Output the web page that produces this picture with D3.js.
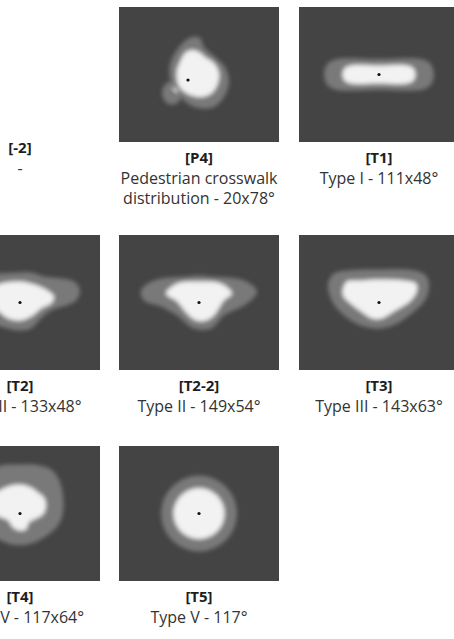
<!DOCTYPE html>
<html>
<head>
<meta charset="utf-8">
<script src="https://cdn.jsdelivr.net/npm/d3@7/dist/d3.min.js"></script>
<style>
  body { margin: 0; background: #fff; }
  svg { display: block; }
</style>
</head>
<body>
<div id="chart"></div>
<script>
// --- Data ---
const labels = ["[-2]", "[P4]", "[T1]", "[T2]", "[T2-2]", "[T3]", "[T4]", "[T5]"];
const captions = [
    ["-"],
    ["Pedestrian crosswalk", "distribution - 20x78°"],
    ["Type I - 111x48°"],
    ["Type II - 133x48°"],
    ["Type II - 149x54°"],
    ["Type III - 143x63°"],
    ["Type IV - 117x64°"],
    ["Type V - 117°"]
];

// luminaire mark, offset from picture centre (null = no picture)
const luminaire = [null, [-11, 5.5], [0, 0], [0, 0], [0, 0], [0, 0], [0, 0], [0, 0]];

// outlines, relative to the luminaire mark
const p4Halo = [[4,-43],[-4,-38],[-13,-27],[-18,-15],[-18,-2],[-11,12],[-1,23],[11,28],[26,27],[36,17],[41,2],[37,-13],[27,-23],[16,-33],[12,-42]];
const p4Core = [[4,-30],[-3,-27],[-8,-18],[-11,-10],[-11,0],[-8,8],[2,15],[14,17],[24,13],[30,3],[31,-7],[26,-17],[17,-23],[11,-28]];
const p4Lobe = [-16, 13, 10, 11.5];   // cx, cy, rx, ry
const p4Spot = [-12.7, 10, 3.5, 2];

const t1Halo = [[-55,0],[-52,-10],[-44,-15],[0,-15.5],[44,-15],[52,-10],[55,0],[52,10],[44,15],[0,15.5],[-44,15],[-52,10]];
const t1Core = [[-36.5,0],[-34,-6.5],[-28,-9],[0,-9],[28,-9],[34,-6.5],[36.5,0],[34,6.5],[28,9],[0,9],[-28,9],[-34,6.5]];

const t2Halo = [[-35,-29],[-19,-29],[0,-30],[11,-30],[24,-26],[41,-24],[54,-21],[60,-12],[56,-2],[46,3],[31,8],[21,16],[11,26],[-2,28],[-19,24],[-40,18],[-55,5],[-60,-12],[-50,-24]];
const t2Core = [[0,-21],[11,-19],[24,-14],[34,-6],[31,1],[21,6],[13,13],[1,18],[-12,16],[-19,11],[-30,0],[-33,-9],[-22,-18]];

const t22Halo = [[-58,-12],[-45,-22],[-12,-26],[0,-27],[12,-26],[45,-22],[58,-11],[48,1],[25,13],[12,26],[-5,26],[-22,13],[-38,4],[-55,-2]];
const t22Core = [[0,-21],[-22,-19],[-33,-9],[-22,-1],[-12,11],[-3,18],[7,18],[15,13],[25,-2],[33,-9],[22,-19]];

const t3Halo = [[-51,-19],[-45,-29],[-32,-32],[2,-33],[35,-32],[47,-27],[50,-17],[47,-4],[35,9],[18,21],[2,26],[-15,24],[-28,18],[-42,6],[-49,-6]];
const t3Core = [[-36,-14],[-32,-21],[-18,-22],[2,-23],[25,-22],[37,-19],[38,-12],[32,-2],[15,9],[3,16],[-7,16],[-18,9],[-32,-2],[-36,-7]];

const t4Halo = [[0,-49],[14,-49],[31,-44],[39,-34],[43,-18],[43,-1],[38,12],[24,24],[8,31],[-9,31],[-19,27],[-35,20],[-45,0],[-42,-25],[-30,-42],[-19,-48]];
const t4Core = [[1,-29],[11,-26],[18,-21],[24,-16],[26,-8],[23,1],[14,6],[9,9],[6,16],[-1,17],[-7,14],[-12,7],[-19,4],[-28,0],[-30,-12],[-22,-22],[-9,-28]];

const t5HaloR = 38;
const t5CoreR = 25.5;

const halos = [null, p4Halo, t1Halo, t2Halo, t22Halo, t3Halo, t4Halo, null];
const cores = [null, p4Core, t1Core, t2Core, t22Core, t3Core, t4Core, null];

// --- Layout ---
const width = 454, height = 639;
const colX = [-60, 119, 299];
const rowY = [7, 235, 446];
const boxW = 160, boxH = 135;
const colors = { bg: "#444444", halo: "#797979", core: "#f2f2f2", dot: "#111" };

const svg = d3.select("#chart").append("svg")
    .attr("width", width)
    .attr("height", height)
    .style("font-family", "'Open Sans', sans-serif");

svg.append("defs").append("filter")
    .attr("id", "soft")
    .attr("x", "-30%").attr("y", "-30%").attr("width", "160%").attr("height", "160%")
    .append("feGaussianBlur").attr("stdDeviation", 2.2);

labels.forEach((label, i) => {
    const x0 = colX[i % 3], y0 = rowY[Math.floor(i / 3)];
    const cx = x0 + boxW / 2;
    const g = svg.append("g");

    if (luminaire[i]) {
        const x = d3.scaleLinear().domain([-80, 80]).range([x0, x0 + boxW]);
        const y = d3.scaleLinear().domain([-67.5, 67.5]).range([y0, y0 + boxH]);
        const [ox, oy] = luminaire[i];

        g.append("clipPath").attr("id", "clip" + i)
            .append("rect").attr("x", x0).attr("y", y0).attr("width", boxW).attr("height", boxH);

        const pic = g.append("g").attr("clip-path", `url(#clip${i})`);
        pic.append("rect")
            .attr("x", x0).attr("y", y0).attr("width", boxW).attr("height", boxH)
            .attr("fill", colors.bg);

        const blobs = pic.append("g").attr("filter", "url(#soft)");
        const outline = d3.line()
            .x(d => x(d[0] + ox))
            .y(d => y(d[1] + oy))
            .curve(d3.curveCatmullRomClosed.alpha(0.5));

        if (halos[i]) {
            blobs.append("path").attr("d", outline(halos[i])).attr("fill", colors.halo);
            if (i === 1) {
                blobs.append("ellipse")
                    .attr("cx", x(p4Lobe[0] + ox)).attr("cy", y(p4Lobe[1] + oy))
                    .attr("rx", x(p4Lobe[2]) - x(0)).attr("ry", y(p4Lobe[3]) - y(0))
                    .attr("fill", colors.halo);
            }
            blobs.append("path").attr("d", outline(cores[i])).attr("fill", colors.core);
        } else {
            blobs.append("circle").attr("cx", x(ox)).attr("cy", y(oy))
                .attr("r", x(t5HaloR) - x(0)).attr("fill", colors.halo);
            blobs.append("circle").attr("cx", x(ox)).attr("cy", y(oy))
                .attr("r", x(t5CoreR) - x(0)).attr("fill", colors.core);
        }
        if (i === 1) {
            pic.append("ellipse")
                .attr("transform", `translate(${x(p4Spot[0] + ox)},${y(p4Spot[1] + oy)}) rotate(40)`)
                .attr("rx", x(p4Spot[2]) - x(0)).attr("ry", y(p4Spot[3]) - y(0))
                .attr("fill", "#d8d8d8")
                .attr("filter", "url(#soft)");
        }

        pic.append("circle")
            .attr("cx", x(ox)).attr("cy", y(oy)).attr("r", 1.6)
            .attr("fill", colors.dot);
    }

    // captions
    const labelY = luminaire[i] ? y0 + boxH + 21 : y0 + 146;
    g.append("text")
        .attr("x", cx).attr("y", labelY)
        .attr("text-anchor", "middle")
        .attr("font-size", 15).attr("font-weight", 700)
        .attr("fill", "#1e1e1e")
        .text(label);

    captions[i].forEach((line, k) => {
        g.append("text")
            .attr("x", cx).attr("y", labelY + 21 + k * 19.5)
            .attr("text-anchor", "middle")
            .attr("font-size", 16)
            .attr("fill", "#333")
            .text(line);
    });
});
</script>
</body>
</html>
